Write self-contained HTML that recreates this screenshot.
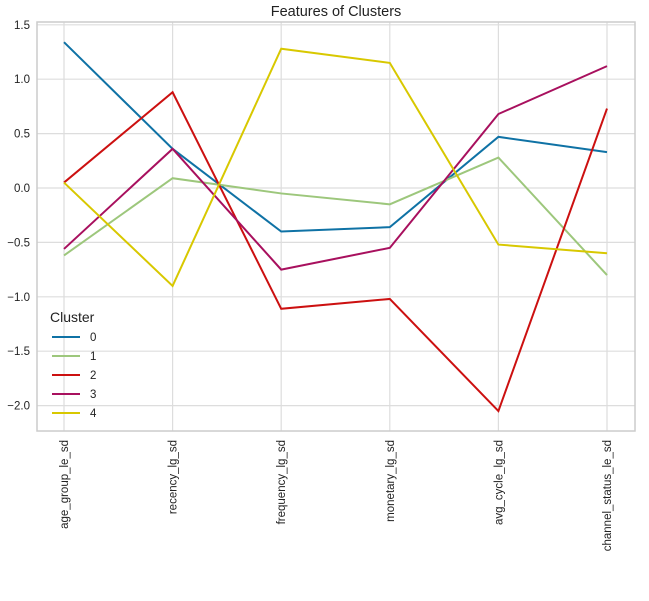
<!DOCTYPE html>
<html><head><meta charset="utf-8"><style>
body{margin:0;background:#fff;font-family:"Liberation Sans",sans-serif;}
svg text{font-family:"Liberation Sans",sans-serif;}
</style></head><body>
<svg id="chart" width="649" height="596">
<text x="336" y="16" text-anchor="middle" font-size="14.5" fill="#222">Features of Clusters</text>
<g id="grid"></g><g id="lines"></g><g id="ticks"></g>
<rect x="37" y="22" width="598" height="409" fill="none" stroke="#ccc" stroke-width="1.5"/>
<g id="legend"></g>
</svg>
<script>
const categories=["age_group_le_sd","recency_lg_sd","frequency_lg_sd","monetary_lg_sd","avg_cycle_lg_sd","channel_status_le_sd"];
const clusterNames=["0","1","2","3","4"];
const c0=[1.34,0.36,-0.40,-0.36,0.47,0.33];
const c1=[-0.62,0.09,-0.05,-0.15,0.28,-0.80];
const c2=[0.05,0.88,-1.11,-1.02,-2.05,0.73];
const c3=[-0.56,0.36,-0.75,-0.55,0.68,1.12];
const c4=[0.05,-0.90,1.28,1.15,-0.52,-0.60];
const yTicks=[1.5,1.0,0.5,0.0,-0.5,-1.0,-1.5,-2.0];
const series=[c0,c1,c2,c3,c4];
const colors=["#0f72a5","#9dc77c","#cc1010","#a8105e","#d8c800"];
const NS="http://www.w3.org/2000/svg";
const xLeft=64,xRight=607,yTop=22,yBot=431;
const x=i=>xLeft+i*(xRight-xLeft)/(categories.length-1);
const y=v=>188-v*108.8;
function mk(t,a,p){const e=document.createElementNS(NS,t);for(const k in a)e.setAttribute(k,a[k]);p.appendChild(e);return e;}
const grid=document.getElementById('grid'),ticks=document.getElementById('ticks'),lines=document.getElementById('lines'),leg=document.getElementById('legend');
yTicks.forEach(v=>{
 const l=mk('line',{x1:37,x2:635,y1:y(v),y2:y(v),stroke:'#ddd','stroke-width':1.2},grid);
 
 
 const t=mk('text',{x:30,y:y(v)+4,'text-anchor':'end','font-size':11.5,fill:'#222'},ticks);
 t.textContent=v.toFixed(1).replace('-','\u2212');
 
 
});
categories.forEach((c,i)=>{
 const l=mk('line',{x1:x(i),x2:x(i),y1:yTop,y2:yBot,stroke:'#ddd','stroke-width':1.2},grid);
 
 
 const t=mk('text',{x:0,y:0,'text-anchor':'end','font-size':11.5,fill:'#222',transform:`translate(${x(i)+4},440) rotate(-90)`},ticks);
 t.textContent=c;
 
 
});
series.forEach((s,k)=>{
 const p=mk('polyline',{points:s.map((v,i)=>x(i)+','+y(v)).join(' '),fill:'none',stroke:colors[k],'stroke-width':2},lines);
 
 
});
const lt=mk('text',{x:50,y:322,'font-size':14,fill:'#222'},leg);
lt.textContent='Cluster';


clusterNames.forEach((n,k)=>{
 const yy=337+k*19;
 const l=mk('line',{x1:52,x2:80,y1:yy,y2:yy,stroke:colors[k],'stroke-width':2},leg);
 
 
 const t=mk('text',{x:90,y:yy+4,'font-size':11.5,fill:'#222'},leg);
 t.textContent=n;
 
 
});
</script>
</body></html>
